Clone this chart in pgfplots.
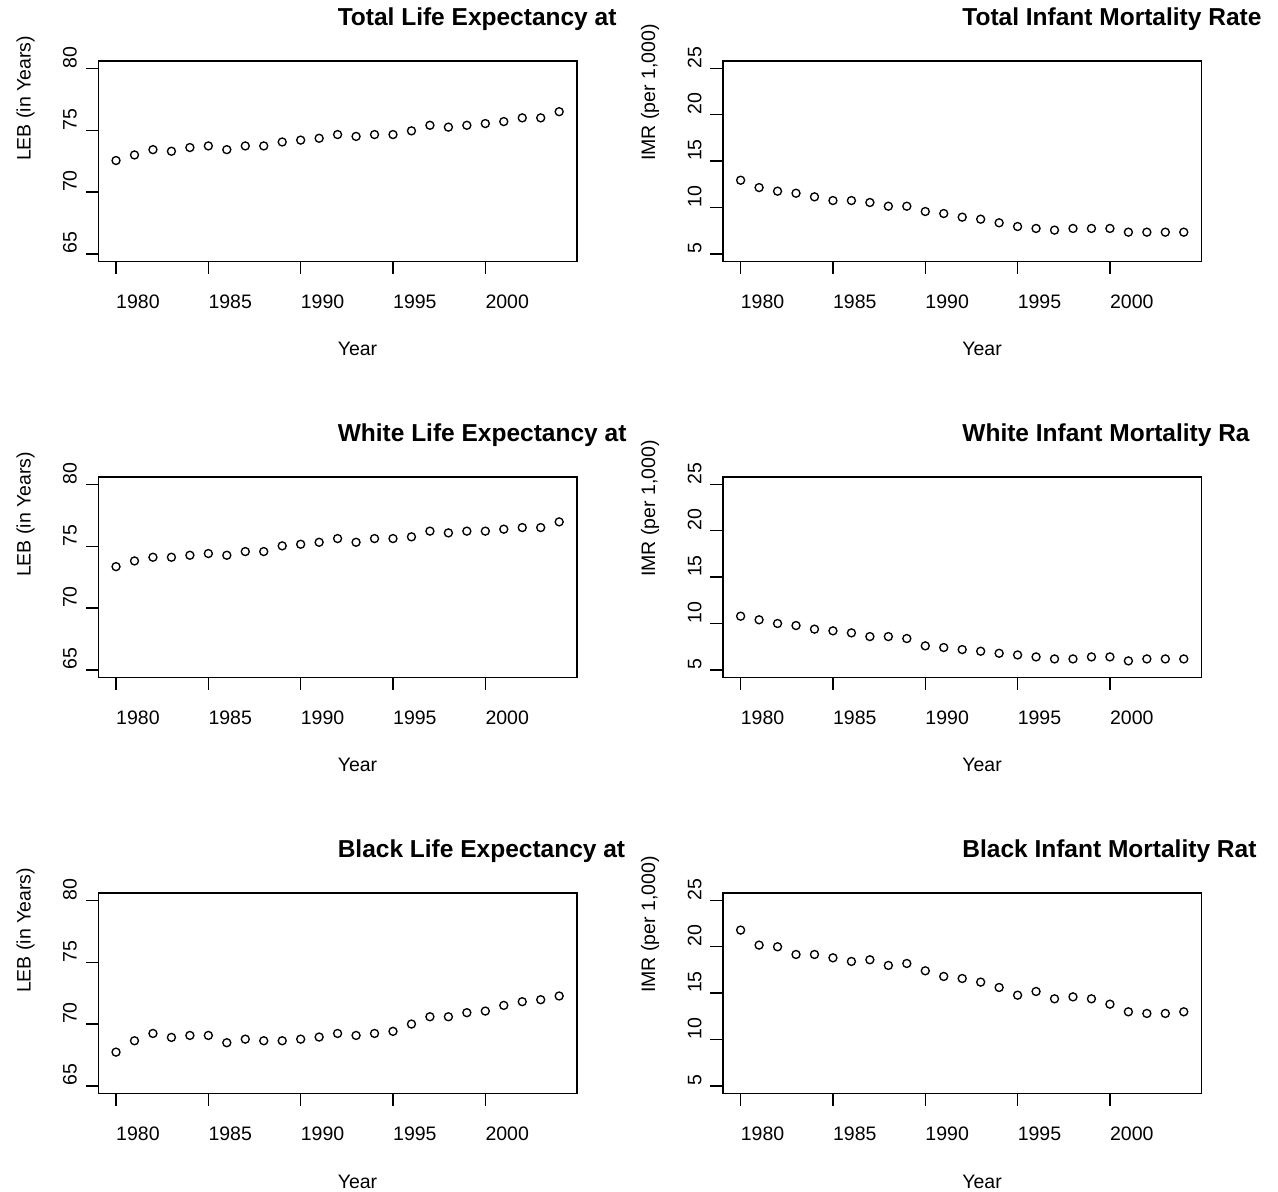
\documentclass[border=0pt]{standalone}
\usepackage{fontspec}
\setmainfont{Liberation Sans}
\usepackage{pgfplots}
\pgfplotsset{compat=1.18}
\usepackage{pgfplotstable}

\pgfplotstableread{
year val
1980 72.55
1981 73.00
1982 73.43
1983 73.30
1984 73.60
1985 73.73
1986 73.43
1987 73.73
1988 73.73
1989 74.05
1990 74.20
1991 74.35
1992 74.65
1993 74.50
1994 74.65
1995 74.65
1996 74.95
1997 75.40
1998 75.25
1999 75.40
2000 75.54
2001 75.70
2002 76.00
2003 76.00
2004 76.50
}\lebtotal

\pgfplotstableread{
year val
1980 12.94
1981 12.15
1982 11.76
1983 11.54
1984 11.15
1985 10.75
1986 10.75
1987 10.54
1988 10.14
1989 10.14
1990 9.57
1991 9.35
1992 8.96
1993 8.74
1994 8.35
1995 7.95
1996 7.74
1997 7.56
1998 7.74
1999 7.74
2000 7.74
2001 7.34
2002 7.34
2003 7.34
2004 7.34
}\imrtotal

\pgfplotstableread{
year val
1980 73.35
1981 73.81
1982 74.11
1983 74.11
1984 74.27
1985 74.41
1986 74.27
1987 74.57
1988 74.57
1989 75.03
1990 75.16
1991 75.32
1992 75.62
1993 75.32
1994 75.62
1995 75.62
1996 75.76
1997 76.22
1998 76.08
1999 76.22
2000 76.22
2001 76.38
2002 76.51
2003 76.51
2004 76.97
}\lebwhite

\pgfplotstableread{
year val
1980 10.79
1981 10.40
1982 10.00
1983 9.78
1984 9.39
1985 9.21
1986 8.99
1987 8.59
1988 8.59
1989 8.38
1990 7.59
1991 7.41
1992 7.19
1993 7.01
1994 6.79
1995 6.61
1996 6.40
1997 6.18
1998 6.18
1999 6.40
2000 6.40
2001 5.97
2002 6.18
2003 6.18
2004 6.18
}\imrwhite

\pgfplotstableread{
year val
1980 67.73
1981 68.65
1982 69.24
1983 68.92
1984 69.08
1985 69.08
1986 68.49
1987 68.78
1988 68.65
1989 68.65
1990 68.78
1991 68.95
1992 69.24
1993 69.08
1994 69.24
1995 69.41
1996 70.00
1997 70.59
1998 70.59
1999 70.92
2000 71.05
2001 71.51
2002 71.81
2003 71.97
2004 72.27
}\lebblack

\pgfplotstableread{
year val
1980 21.80
1981 20.18
1982 20.00
1983 19.17
1984 19.17
1985 18.81
1986 18.42
1987 18.60
1988 17.99
1989 18.20
1990 17.41
1991 16.80
1992 16.58
1993 16.19
1994 15.61
1995 14.78
1996 15.18
1997 14.39
1998 14.60
1999 14.39
2000 13.81
2001 12.99
2002 12.81
2003 12.81
2004 12.99
}\imrblack

\newcommand{\tickfont}{\fontsize{19.5}{23}\selectfont}
\newcommand{\titlefont}{\fontsize{24.5}{29}\selectfont\bfseries}

% #1 x0, #2 y0, #3 ymin, #4 ymax, #5 ytick list, #6 title, #7 ylabel, #8 table
\newcommand{\panel}[8]{%
\begin{axis}[
  at={(#1pt,#2pt)}, anchor=south west,
  scale only axis, width=478.6pt, height=200.3pt,
  xmin=1979.04, xmax=2004.96, ymin=#3, ymax=#4,
  clip=false,
  axis line style={line width=1.3pt, black},
  xtick={1980,1985,1990,1995,2000}, ytick={#5},
  xtick pos=bottom, ytick pos=left,
  tick align=outside, major tick length=12.5pt,
  every tick/.style={line width=1.3pt, black},
  xticklabels={}, yticklabels={},
]
\addplot[only marks, mark=o, mark size=4pt, line width=1.35pt, black] table[x=year,y=val] {#8};
\pgfplotsinvokeforeach{1980,1985,1990,1995,2000}{
  \node[anchor=base west, inner sep=0pt, font=\tickfont, yshift=-47pt] at (axis cs:##1,#3) {##1};
}
\pgfplotsinvokeforeach{#5}{
  \node[xshift=-21.6pt, rotate=90, anchor=base west, inner sep=0pt, font=\tickfont] at (axis cs:1979.04,##1) {##1};
}
\node[anchor=base west, inner sep=0pt, font=\titlefont, yshift=35.5pt] at (rel axis cs:0.5,1) {#6};
\node[anchor=base west, inner sep=0pt, font=\tickfont, yshift=-94.7pt] at (rel axis cs:0.5,0) {Year};
\node[xshift=-67.7pt, rotate=90, anchor=base west, inner sep=0pt, font=\tickfont] at (rel axis cs:0,0.5) {#7};
\end{axis}%
}

\begin{document}
\begin{tikzpicture}
\path[use as bounding box] (0pt,0pt) rectangle (1278pt,1192pt);
\panel{98.3}{930.7}{64.4}{80.6}{65,70,75,80}{Total Life Expectancy at}{LEB (in Years)}{\lebtotal}
\panel{722.9}{930.7}{4.2}{25.8}{5,10,15,20,25}{Total Infant Mortality Rate}{IMR (per 1,000)}{\imrtotal}
\panel{98.3}{514.7}{64.4}{80.6}{65,70,75,80}{White Life Expectancy at}{LEB (in Years)}{\lebwhite}
\panel{722.9}{514.7}{4.2}{25.8}{5,10,15,20,25}{White Infant Mortality Ra}{IMR (per 1,000)}{\imrwhite}
\panel{98.3}{98.7}{64.4}{80.6}{65,70,75,80}{Black Life Expectancy at}{LEB (in Years)}{\lebblack}
\panel{722.9}{98.7}{4.2}{25.8}{5,10,15,20,25}{Black Infant Mortality Rat}{IMR (per 1,000)}{\imrblack}
\end{tikzpicture}
\end{document}
